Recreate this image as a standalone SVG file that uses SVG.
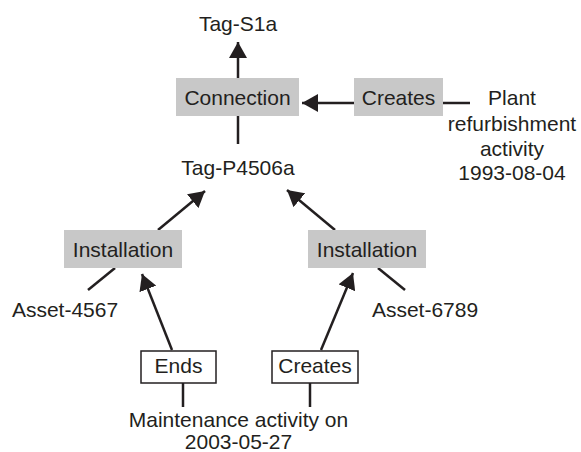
<svg xmlns="http://www.w3.org/2000/svg" width="581" height="452" viewBox="0 0 581 452">
  <style>
    text { font-family: "Liberation Sans", Arial, sans-serif; font-size: 21px; fill: #231f20; text-anchor: middle; }
    .rel { fill: #c8c8c8; stroke: none; }
    .act { fill: #ffffff; stroke: #231f20; stroke-width: 1.5; }
    .edge { stroke: #231f20; stroke-width: 2.5; fill: none; stroke-linecap: butt; }
  </style>
  <defs>
    <marker id="arrow" viewBox="0 0 16 18" refX="16" refY="9" markerWidth="16" markerHeight="18" markerUnits="userSpaceOnUse" orient="auto">
      <path d="M0,0 L16,9 L0,18 z" fill="#231f20"/>
    </marker>
  </defs>

  <rect width="581" height="452" fill="#ffffff"/>

  <!-- connectors -->
  <g id="connectors">
    <line class="edge" x1="238" y1="78" x2="238" y2="42" marker-end="url(#arrow)"/>
    <line class="edge" x1="238" y1="144" x2="238" y2="116"/>
    <line class="edge" x1="354" y1="103" x2="302" y2="103" marker-end="url(#arrow)"/>
    <line class="edge" x1="443" y1="103" x2="470" y2="103"/>
    <line class="edge" x1="158" y1="230" x2="205" y2="191" marker-end="url(#arrow)"/>
    <line class="edge" x1="115" y1="268" x2="88" y2="290"/>
    <line class="edge" x1="172" y1="350" x2="142" y2="274" marker-end="url(#arrow)"/>
    <line class="edge" x1="183" y1="383" x2="183" y2="407"/>
    <line class="edge" x1="335" y1="230" x2="287" y2="190" marker-end="url(#arrow)"/>
    <line class="edge" x1="378" y1="268" x2="405" y2="290"/>
    <line class="edge" x1="321" y1="350" x2="353" y2="273" marker-end="url(#arrow)"/>
    <line class="edge" x1="310" y1="383" x2="310" y2="407"/>
  </g>

  <!-- nodes -->
  <g id="tag-s1a">
    <text x="238" y="31">Tag-S1a</text>
  </g>
  <g id="connection">
    <rect class="rel" x="176" y="78" width="123" height="38"/>
    <text x="237.5" y="105">Connection</text>
  </g>
  <g id="creates-connection">
    <rect class="rel" x="354" y="78" width="89" height="38"/>
    <text x="398.5" y="105">Creates</text>
  </g>
  <g id="plant-refurbishment">
    <text x="512" y="105">Plant</text>
    <text x="512" y="131">refurbishment</text>
    <text x="512" y="156">activity</text>
    <text x="512" y="180">1993-08-04</text>
  </g>
  <g id="tag-p4506a">
    <text x="238" y="175">Tag-P4506a</text>
  </g>
  <g id="installation-left">
    <rect class="rel" x="64" y="230" width="118" height="38"/>
    <text x="123" y="257">Installation</text>
  </g>
  <g id="installation-right">
    <rect class="rel" x="308" y="230" width="118" height="38"/>
    <text x="367" y="257">Installation</text>
  </g>
  <g id="asset-4567">
    <text x="65" y="317">Asset-4567</text>
  </g>
  <g id="asset-6789">
    <text x="425" y="317">Asset-6789</text>
  </g>
  <g id="ends">
    <rect class="act" x="141" y="351" width="75" height="32"/>
    <text x="178.5" y="373">Ends</text>
  </g>
  <g id="creates-installation">
    <rect class="act" x="272" y="351" width="86" height="32"/>
    <text x="315" y="373">Creates</text>
  </g>
  <g id="maintenance-activity">
    <text x="238.5" y="427">Maintenance activity on</text>
    <text x="238.5" y="449">2003-05-27</text>
  </g>
</svg>
